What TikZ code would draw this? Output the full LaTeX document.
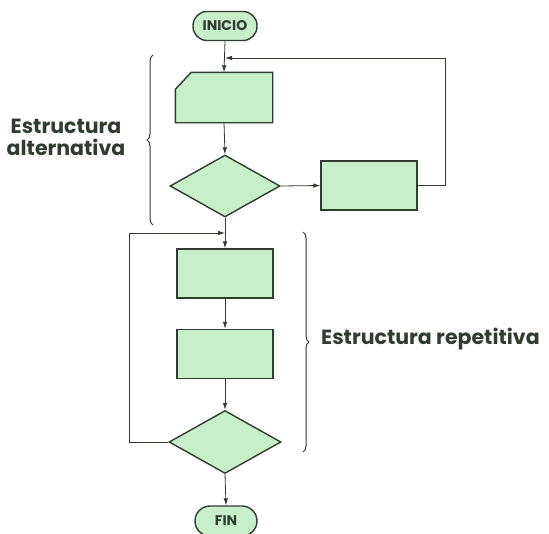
\documentclass[tikz,border=0pt]{standalone}
\usepackage{fontspec}
\newfontfamily\pop{Poppins}[BoldFont={Poppins Bold}]
\usetikzlibrary{shapes.geometric,arrows.meta,decorations.pathreplacing}
\definecolor{boxfill}{RGB}{200,238,202}
\definecolor{ink}{RGB}{48,60,48}
\tikzset{
  shapebox/.style={draw=ink,fill=boxfill,line width=1.4pt,minimum width=96pt,minimum height=49pt,inner sep=0pt},
  decision/.style={diamond,draw=ink,fill=boxfill,line width=1.4pt,minimum width=110pt,minimum height=62pt,inner sep=0pt},
  terminal/.style={draw=ink,fill=boxfill,line width=1.4pt,rounded corners=14pt,minimum width=64pt,minimum height=29pt,inner sep=0pt,font=\pop\bfseries\fontsize{14}{14}\selectfont,text=ink},
  flow/.style={draw=ink,line width=0.8pt,-{Latex[length=7pt,width=4.5pt]}},
  line/.style={draw=ink,line width=0.8pt},
  label/.style={font=\pop\bfseries\fontsize{20.5}{22}\selectfont,text=ink,align=center,inner sep=0pt},
  bracestyle/.style={draw=ink,line width=1pt,decorate,decoration={brace,amplitude=6pt}}
}
\begin{document}
\begin{tikzpicture}[x=1pt,y=-1pt]
\useasboundingbox (0,0) rectangle (549,533);
\clip (0,0) rectangle (549,533);
\node[terminal] (inicio) at (225,26) {INICIO};
\node[shapebox,draw=none,fill=none] (card) at (224,97.5) {};
\fill[boxfill,draw=ink,line width=1.4pt] ([xshift=16pt]card.north west) -- (card.north east) -- (card.south east) -- (card.south west) -- ([yshift=-17pt]card.north west) -- cycle;
\node[decision] (d1) at (225,186) {};
\node[shapebox] (r1) at (369,185.5) {};
\node[shapebox] (r2) at (225,273.5) {};
\node[shapebox] (r3) at (225,354) {};
\node[decision,minimum width=112pt,minimum height=63pt] (d2) at (225,442) {};
\node[terminal,minimum width=62pt,minimum height=30pt,rounded corners=15pt] (fin) at (226,521) {FIN};
\coordinate (j1) at (225,58);
\coordinate (j2) at (225,233);
\coordinate (fa) at (445,185.5);
\coordinate (fb) at (445,58);
\coordinate (la) at (129,442);
\coordinate (lb) at (129,233);
% connectors
\draw[flow] (inicio.south) -- (card.north);
\draw[flow] (card.south) -- (d1.north);
\draw[flow] (d1.east) -- (r1.west);
\draw[line] (r1.east) -- (fa) -- (fb);
\draw[flow] (fb) -- (j1);
\draw[flow] (d1.south) -- (r2.north);
\draw[flow] (r2.south) -- (r3.north);
\draw[flow] (r3.south) -- (d2.north);
\draw[flow] (d2.south) -- (fin.north);
\draw[line] (d2.west) -- (la) -- (lb);
\draw[flow] (lb) -- (j2);
% braces
\coordinate (b1a) at (153,225);
\coordinate (b1b) at (153,55);
\coordinate (b2a) at (303,232);
\coordinate (b2b) at (303,452);
\draw[bracestyle] (b1a) -- (b1b);
\draw[bracestyle] (b2a) -- (b2b);
\node[label] (alt) at (66,137) {Estructura\\alternativa};
\node[label,anchor=west] (rep) at (321,339) {Estructura repetitiva};
\end{tikzpicture}
\end{document}
